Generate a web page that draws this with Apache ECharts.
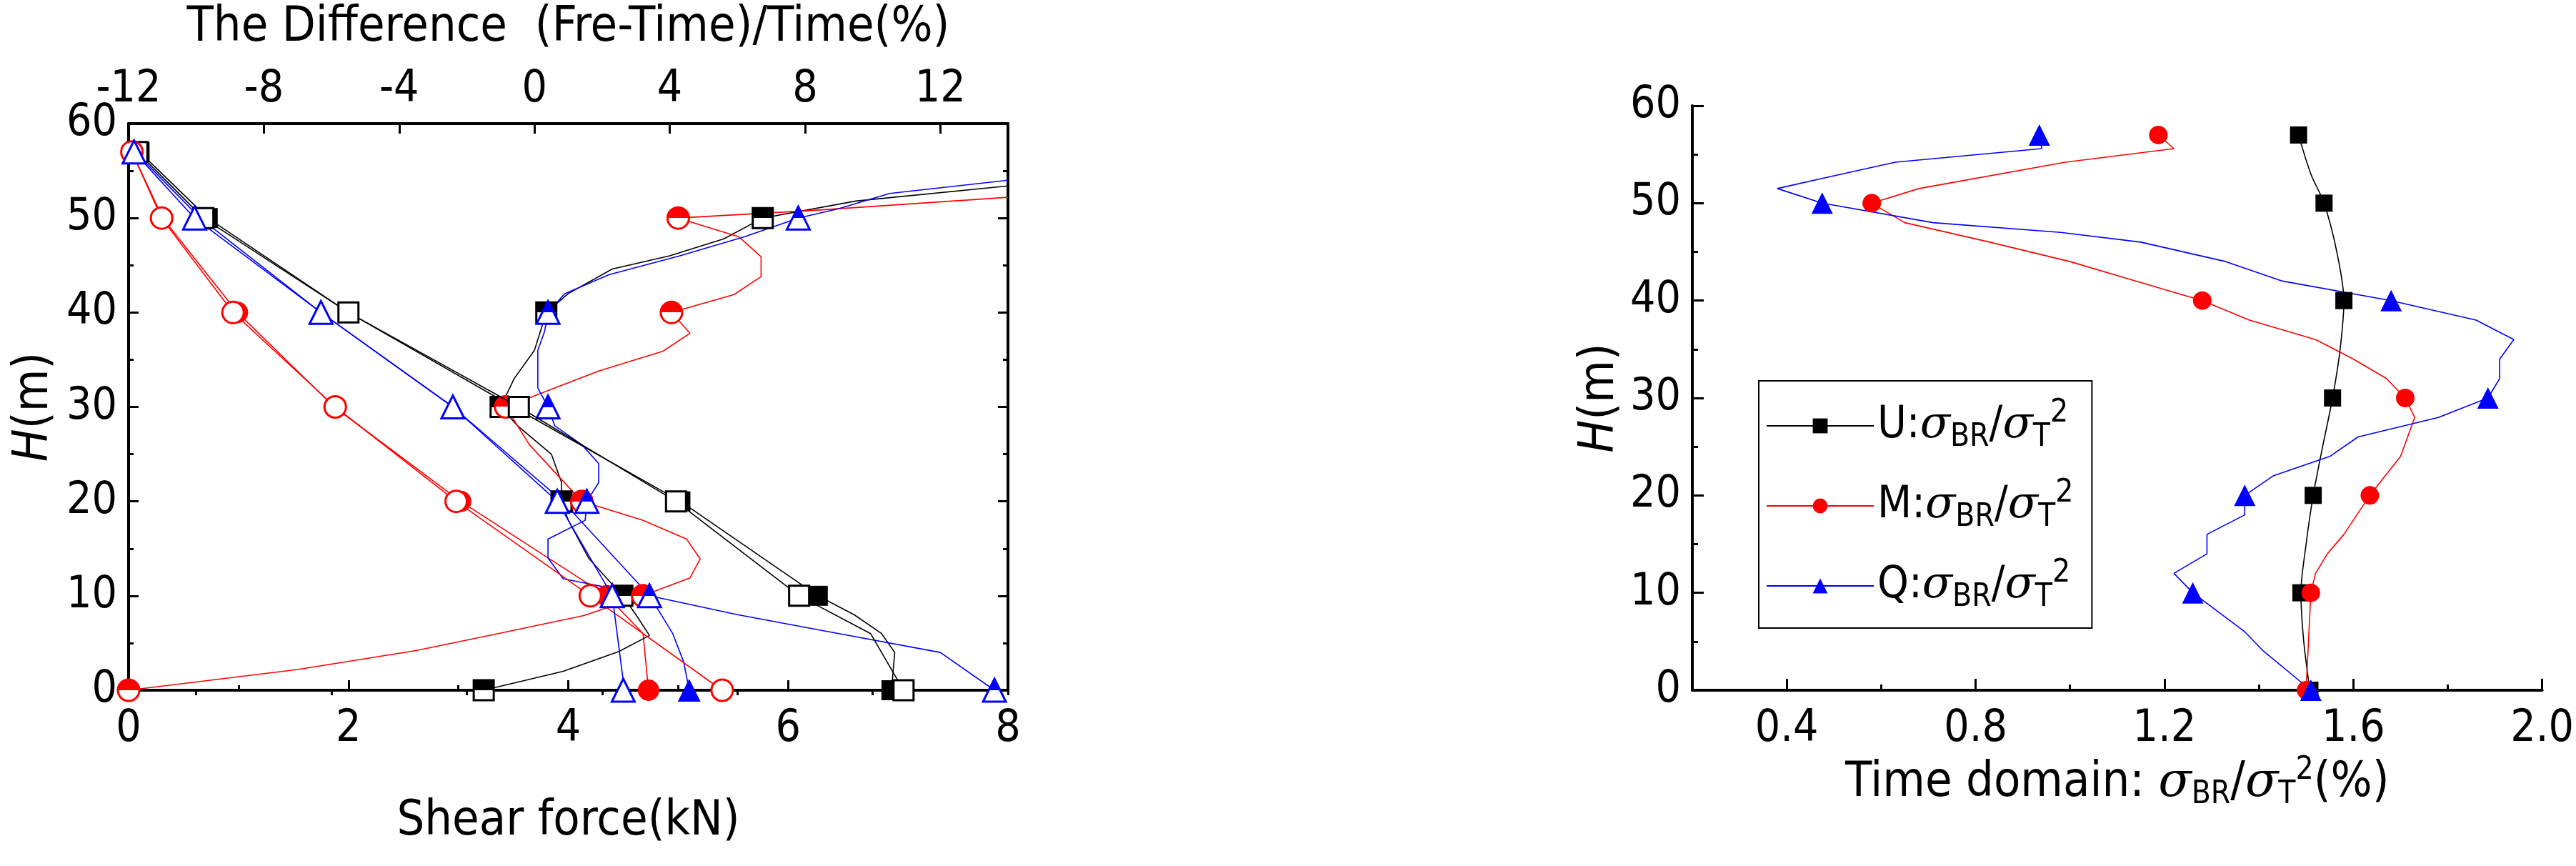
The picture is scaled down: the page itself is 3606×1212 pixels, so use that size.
<!DOCTYPE html>
<html><head><meta charset="utf-8">
<script src="https://cdn.jsdelivr.net/npm/echarts@6/dist/echarts.min.js"></script>
<style>html,body{margin:0;padding:0;background:#fff}#c{width:3606px;height:1212px}</style>
</head><body><div id="c"></div>
<script>
// ---------- Left chart data: [value, height] ----------
const blackTime = [[0.08,57],[0.68,50],[2.0,40],[3.55,30],[4.98,20],[6.1,10],[6.75,6],[6.95,2],[7.05,0]];
const blackFre  = [[0.1,57],[0.72,50],[2.0,40],[3.5,30],[5.02,20],[6.27,10],[6.6,8],[6.85,6],[6.97,4],[6.94,0]];
const redTime   = [[0.03,57],[0.3,50],[0.95,40],[1.88,30],[2.98,20],[4.2,10],[5.4,0]];
const redFre    = [[0.03,57],[0.31,50],[0.99,40],[1.87,30],[3.02,20],[4.35,10],[4.68,6],[4.73,0]];
const blueTime  = [[0.05,57],[0.6,50],[1.75,40],[2.95,30],[3.9,20],[4.4,10],[4.5,1],[4.5,0]];
const blueFre   = [[0.06,57],[0.65,50],[1.75,40],[2.95,30],[3.95,20],[4.74,10],[4.95,6],[5.05,3],[5.1,0]];

const blackDiff = [[-1.5,0],[0.85,2],[2.5,4.1],[3.4,5.8],[3.0,8],[2.6,10],[1.6,14],[1.0,18],[0.8,20],[0.8,22],[0.5,25],[-0.5,28],[-1.0,30],[-0.6,33],[0.0,36],[0.35,40],[1.0,42],[2.3,44.6],[4.0,46],[5.6,47.8],[6.75,50],[9.5,51.8],[14,53.4],[16,54]];
const redDiff   = [[-12,0],[-7,2.2],[-3.5,4.2],[-1.2,5.9],[1.46,7.9],[3.2,10],[4.6,11.9],[4.9,13.9],[4.5,16],[3.2,18],[1.4,20],[-0.15,26],[-0.85,30],[1.9,33.8],[3.8,35.9],[4.6,37.8],[4.05,40],[5.9,41.9],[6.7,43.8],[6.7,45.9],[6.05,48],[4.25,50],[8.2,50.8],[14,52.2]];
const blueDiff  = [[13.6,0],[12.0,4],[9.0,6],[6.0,8],[3.4,10],[0.85,11.8],[0.4,14],[0.4,16],[1.5,18],[1.55,20],[1.9,22],[1.9,24],[1.4,26],[0.6,28],[0.4,30],[0.1,32],[0.1,36],[0.3,38],[0.4,40],[0.9,42],[2.2,44],[4.3,46],[6.2,48],[7.8,50],[9.0,51],[10.5,52.6],[14,54]];

// ---------- Right chart data: [ratio, height] ----------
const uRatio = [[1.484,57],[1.51,53],[1.538,50],[1.565,45],[1.58,40],[1.572,35],[1.556,30],[1.535,25],[1.515,20],[1.5,15],[1.489,10],[1.495,5],[1.508,0]];
const mRatio = [[1.187,57],[1.22,55.6],[0.99,54.2],[0.68,51.5],[0.58,50],[0.65,48],[0.83,46],[1.0,44],[1.14,42],[1.28,40],[1.38,38],[1.52,36],[1.6,34],[1.67,32],[1.71,30],[1.73,28],[1.70,24],[1.635,20],[1.58,16],[1.545,14],[1.52,12],[1.51,10],[1.5,0]];
const qRatio = [[0.935,57],[0.94,55.6],[0.63,54.2],[0.49,52.7],[0.38,51.5],[0.475,50],[0.71,48],[0.98,47],[1.15,46],[1.33,44],[1.45,42],[1.68,40],[1.86,38],[1.94,36],[1.91,34],[1.91,32],[1.885,30],[1.78,28],[1.61,26],[1.55,24],[1.43,22],[1.37,20],[1.37,18],[1.29,16],[1.29,14],[1.22,12],[1.26,10],[1.37,6],[1.41,4],[1.51,0]];

const markHeights = [0,10,20,30,40,50,57];
const topXTicks = [-12,-8,-4,0,4,8,12];
const topXMinor = [-10,-6,-2,2,6,10,14];
const rightXLabels = [0.4,0.8,1.2,1.6,2.0];
const rightXMinor = [0.2,0.6,1.0,1.4,1.8];

const FONT = "'DejaVu Sans Condensed','Liberation Sans Narrow','Liberation Sans',sans-serif";
const FS = 62;
const BLK='#000', RED='#ff0000', BLU='#0000ff';
const halfFill = c => new echarts.graphic.LinearGradient(0,0,0,1,[{offset:0,color:c},{offset:0.5,color:c},{offset:0.5,color:'#fff'},{offset:1,color:'#fff'}]);
const mSize = s => (v => markHeights.includes(v[1]) ? s : 0);

function lineSeries(name, data, xi, yi, color, symbol, fill, size){
  return {name, type:'line', data, xAxisIndex:xi, yAxisIndex:yi, symbol, symbolSize:mSize(size),
    showAllSymbol:true, clip:true, lineStyle:{color, width:1.6},
    itemStyle:{color: fill==='open' ? '#fff' : (fill==='half' ? halfFill(color) : color), borderColor:color, borderWidth: fill==='full'?0:3},
    z: fill==='open'?4:3};
}
const axisLabelBase = {color:'#000', fontFamily:FONT, fontSize:FS};
const tk = {width:3,color:'#000'};
const rich = {
  n:{fontFamily:FONT,fontSize:FS,color:'#000'},
  i:{fontFamily:'DejaVu Serif',fontStyle:'italic',fontSize:FS,color:'#000'},
  sub:{fontFamily:FONT,fontSize:44,color:'#000',verticalAlign:'bottom',padding:[34,0,0,0]},
  sup:{fontFamily:FONT,fontSize:44,color:'#000',verticalAlign:'top',padding:[0,0,34,0]},
  h:{fontFamily:FONT,fontStyle:'italic',fontSize:68,color:'#000'},
  m:{fontFamily:FONT,fontSize:68,color:'#000'}
};
const ratioLabel = p => `{n|${p}:}{i|σ}{sub|BR}{n|/}{i|σ}{sub|T}{sup|2}`;
const line4 = {onZero:false,lineStyle:{color:'#000',width:4}};

const chart = echarts.init(document.getElementById('c'));
chart.setOption({
  animation:false, backgroundColor:'#fff',
  grid:[{left:180,right:2195,top:148,bottom:246},{left:2369,right:46,top:148,bottom:246}],
  xAxis:[
    {gridIndex:0,type:'value',min:0,max:8,interval:2,position:'bottom',name:'Shear force(kN)',nameLocation:'middle',nameGap:150,
     nameTextStyle:{fontFamily:FONT,fontSize:68,color:'#000'},
     axisLine:line4,axisTick:{inside:true,length:14,lineStyle:tk},
     minorTick:{show:true,splitNumber:2,length:7,lineStyle:tk},
     axisLabel:{...axisLabelBase,margin:24},splitLine:{show:false}},
    {gridIndex:0,type:'value',min:-12,max:14,position:'top',name:'The Difference  (Fre-Time)/Time(%)',nameLocation:'middle',nameGap:100,
     nameTextStyle:{fontFamily:FONT,fontSize:68,color:'#000'},
     axisLine:line4,axisTick:{inside:true,length:14,customValues:topXTicks,lineStyle:tk},
     axisLabel:{...axisLabelBase,margin:16,customValues:topXTicks},splitLine:{show:false}},
    {gridIndex:0,type:'value',min:-12,max:14,position:'top',
     axisLine:{show:false},axisTick:{inside:true,length:7,customValues:topXMinor,lineStyle:tk},
     axisLabel:{show:false},splitLine:{show:false}},
    {gridIndex:1,type:'value',min:0.2,max:2.0,position:'bottom',name:'{n|Time domain: }{i|σ}{sub|BR}{n|/}{i|σ}{sub|T}{sup|2}{n|(%)}',nameLocation:'middle',nameGap:88,
     nameTextStyle:{rich:{...rich,n:{...rich.n,fontSize:68},i:{...rich.i,fontSize:68}}},
     axisLine:line4,axisTick:{inside:true,length:16,customValues:rightXLabels,lineStyle:tk},
     axisLabel:{...axisLabelBase,margin:24,customValues:rightXLabels,formatter:v=>v.toFixed(1)},splitLine:{show:false}},
    {gridIndex:1,type:'value',min:0.2,max:2.0,position:'bottom',
     axisLine:{show:false},axisTick:{inside:true,length:8,customValues:rightXMinor,lineStyle:tk},
     axisLabel:{show:false},splitLine:{show:false}}
  ],
  yAxis:[
    {gridIndex:0,type:'value',min:0,max:60,interval:10,name:'{h|H}{m|(m)}',nameLocation:'middle',nameGap:98,nameTextStyle:{rich},
     axisLine:line4,axisTick:{inside:true,length:14,lineStyle:tk},
     minorTick:{show:true,splitNumber:2,length:7,lineStyle:tk},
     axisLabel:{...axisLabelBase,margin:16},splitLine:{show:false}},
    {gridIndex:0,type:'value',min:0,max:60,interval:10,position:'right',
     axisLine:{show:true,onZero:false,lineStyle:{color:'#000',width:4}},axisTick:{inside:true,length:14,lineStyle:tk},
     minorTick:{show:true,splitNumber:2,length:7,lineStyle:tk},
     axisLabel:{show:false},splitLine:{show:false}},
    {gridIndex:1,type:'value',min:0,max:60,interval:10,name:'{h|H}{m|(m)}',nameLocation:'middle',nameGap:95,nameTextStyle:{rich},
     axisLine:line4,axisTick:{inside:true,length:16,lineStyle:tk},
     minorTick:{show:true,splitNumber:2,length:8,lineStyle:tk},
     axisLabel:{...axisLabelBase,margin:16},splitLine:{show:false}}
  ],
  legend:{data:['U','M','Q'],left:2462,top:533,orient:'vertical',itemWidth:150,itemHeight:26,itemGap:34,
    padding:[24,26,20,10],borderColor:'#000',borderWidth:2,backgroundColor:'#fff',
    formatter:ratioLabel,textStyle:{rich,fontSize:FS}},
  series:[
    lineSeries('bt',blackTime,0,0,BLK,'rect','open',28),
    lineSeries('bf',blackFre,0,0,BLK,'rect','full',28),
    lineSeries('rt',redTime,0,0,RED,'circle','open',30),
    lineSeries('rf',redFre,0,0,RED,'circle','full',30),
    lineSeries('lt',blueTime,0,0,BLU,'triangle','open',32),
    lineSeries('lf',blueFre,0,0,BLU,'triangle','full',32),
    lineSeries('bd',blackDiff,1,0,BLK,'rect','half',28),
    lineSeries('rd',redDiff,1,0,RED,'circle','half',30),
    lineSeries('ld',blueDiff,1,0,BLU,'triangle','half',32),
    {...lineSeries('U',uRatio,3,2,BLK,'rect','full',24),smooth:0.3},
    lineSeries('M',mRatio,3,2,RED,'circle','full',26),
    lineSeries('Q',qRatio,3,2,BLU,'triangle','full',30)
  ]
});
</script></body></html>
